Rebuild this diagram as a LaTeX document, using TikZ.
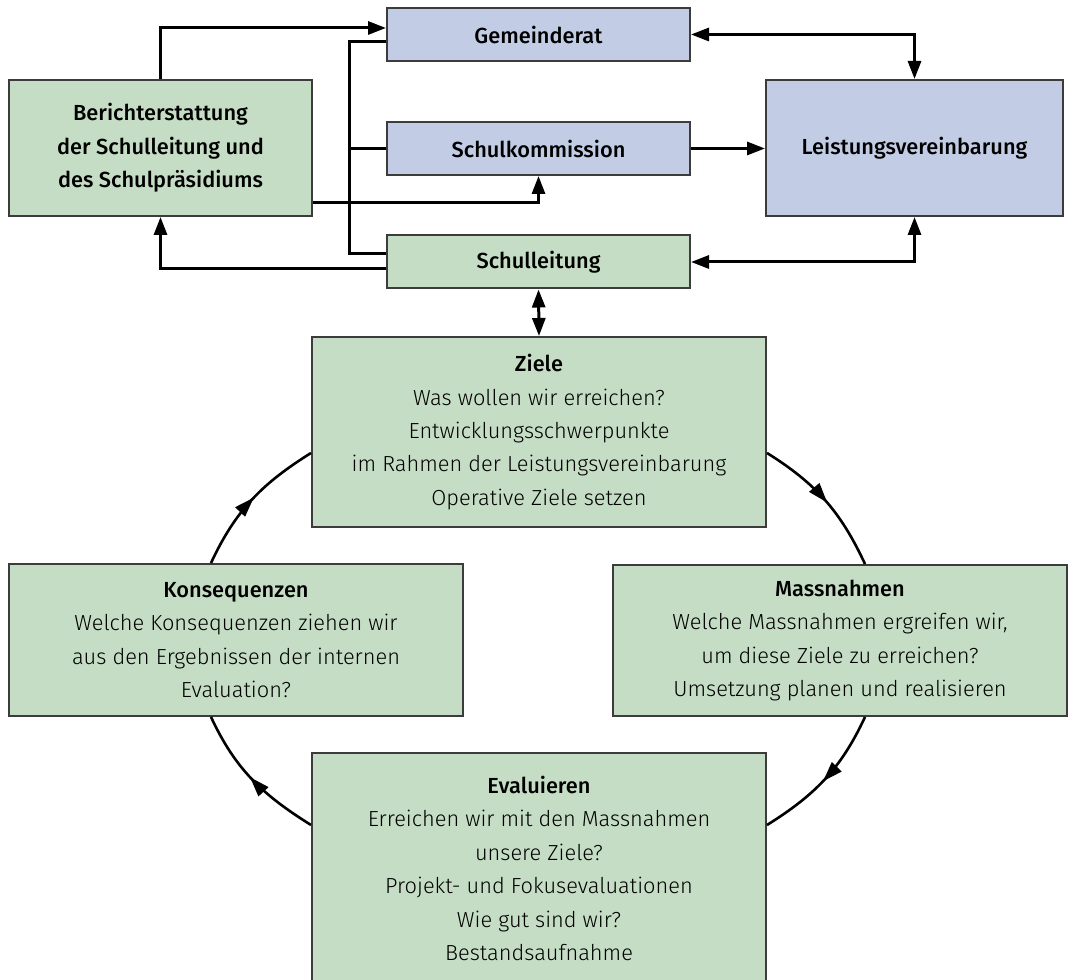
\documentclass[tikz,border=0pt]{standalone}
\usepackage{fontspec}
\setmainfont{Fira Sans}[UprightFont={* Light},BoldFont={* Medium}]
\usetikzlibrary{calc, arrows.meta, decorations.markings}

\definecolor{boxgreen}{RGB}{197,221,196}
\definecolor{boxblue}{RGB}{194,205,229}
\definecolor{rim}{RGB}{60,60,60}

\begin{document}
\begin{tikzpicture}[x=0.5pt,y=0.5pt,
  box/.style={draw=rim,line width=1pt,inner sep=0pt,align=center,
    font=\fontsize{10.9}{16.7}\selectfont},
  greenbox/.style={box,fill=boxgreen},
  bluebox/.style={box,fill=boxblue},
  conn/.style={line width=1.5pt},
  arr/.style={conn,-{Triangle[length=9pt,width=6.5pt]}},
  darr/.style={conn,{Triangle[length=9pt,width=6.5pt]}-{Triangle[length=9pt,width=6.5pt]}},
  cyc/.style={line width=1.3pt,postaction={decorate},
    decoration={markings,mark=at position 0.52 with {\arrow{Triangle[length=10pt,width=6.5pt]}}}}]
\useasboundingbox (0,0) rectangle (1068,979);

% top part
\node[greenbox,minimum width=151.5pt,minimum height=68pt] (bericht) at (160.5,831)
  {\textbf{Berichterstattung}\\\textbf{der Schulleitung und}\\\textbf{des Schulpräsidiums}};
\node[bluebox,minimum width=151.5pt,minimum height=26.5pt] (gemrat) at (538.5,944.5) {\textbf{Gemeinderat}};
\node[bluebox,minimum width=151.5pt,minimum height=26.5pt] (skom) at (538.5,830.5) {\textbf{Schulkommission}};
\node[greenbox,minimum width=151.5pt,minimum height=26.5pt] (sl) at (538.5,717) {\textbf{Schulleitung}};
\node[bluebox,minimum width=148.5pt,minimum height=68pt] (lv) at (914.5,831) {\textbf{Leistungsvereinbarung}};

% cycle
\node[greenbox,minimum width=227pt,minimum height=95pt] (ziele) at (539,547)
  {\textbf{Ziele}\\Was wollen wir erreichen?\\Entwicklungsschwerpunkte\\im Rahmen der Leistungsvereinbarung\\Operative Ziele setzen};
\node[greenbox,minimum width=227pt,minimum height=76pt] (konseq) at (236,339)
  {\textbf{Konsequenzen}\\Welche Konsequenzen ziehen wir\\aus den Ergebnissen der internen\\Evaluation?};
\node[greenbox,minimum width=227pt,minimum height=75.5pt] (massn) at (840,338.5)
  {\textbf{Massnahmen}\\Welche Massnahmen ergreifen wir,\\um diese Ziele zu erreichen?\\Umsetzung planen und realisieren};
\node[greenbox,minimum width=227pt,minimum height=115.5pt] (eval) at (539,110.5)
  {\textbf{Evaluieren}\\Erreichen wir mit den Massnahmen\\unsere Ziele?\\Projekt- und Fokusevaluationen\\Wie gut sind wir?\\Bestandsaufnahme};

% connectors
\draw[arr] (bericht.north) |- ([yshift=3.25pt]gemrat.west);
\draw[conn] ([yshift=-3.75pt]gemrat.west) -- ++(-37,0) |- ([yshift=4pt]sl.west);
\draw[conn] (skom.west) -- ++(-37,0);
\draw[arr] ([yshift=7pt]bericht.south east) -| (skom.south);
\draw[arr] ([yshift=-3.5pt]sl.west) -| (bericht.south);
\draw[darr] (gemrat.east) -| (lv.north);
\draw[arr] (skom.east) -- (skom.east -| lv.west);
\draw[darr] (sl.east) -| (lv.south);
\draw[darr] (sl.south) -- (ziele.north);

\draw[cyc] ([yshift=-10.5pt]ziele.east) to[out=-32,in=115] ([xshift=12.5pt]massn.north);
\draw[cyc] ([xshift=12.5pt]massn.south) to[out=-115,in=32] ([yshift=21.75pt]eval.east);
\draw[cyc] ([yshift=21.75pt]eval.west) to[out=148,in=-65] ([xshift=-12.5pt]konseq.south);
\draw[cyc] ([xshift=-12.5pt]konseq.north) to[out=65,in=212] ([yshift=-10.5pt]ziele.west);
\end{tikzpicture}
\end{document}
